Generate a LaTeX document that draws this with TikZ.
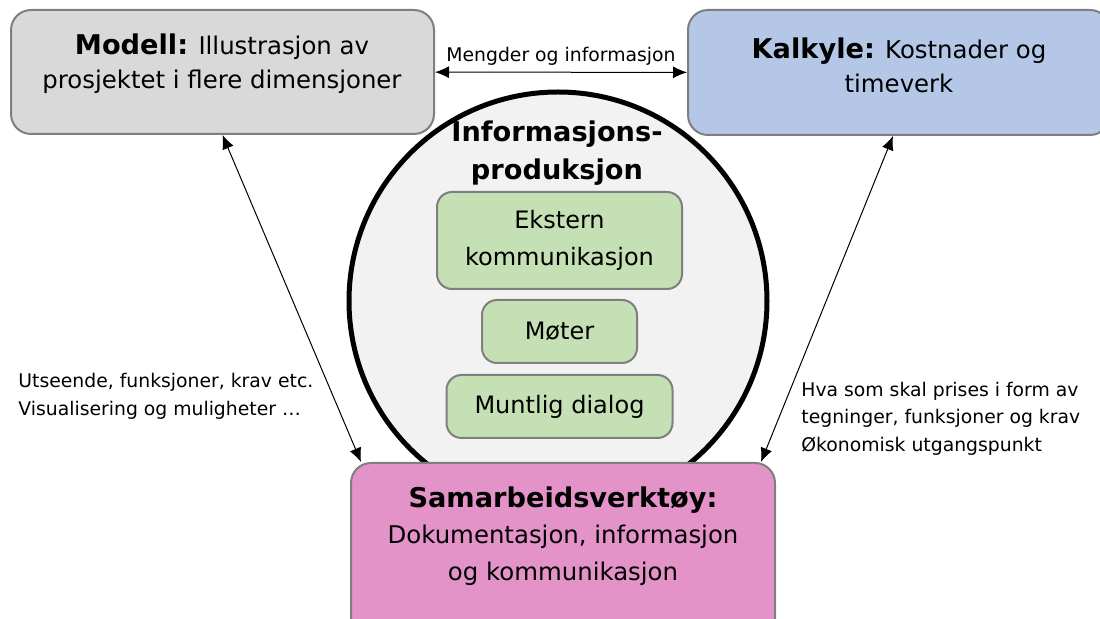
\documentclass[tikz,border=0pt]{standalone}
\usepackage{fontspec}
\setmainfont{DejaVu Sans}
\usetikzlibrary{arrows.meta, positioning}
\definecolor{BorderGray}{HTML}{7F7F7F}
\definecolor{ModelGray}{HTML}{D9D9D9}
\definecolor{CalcBlue}{HTML}{B4C7E7}
\definecolor{SubGreen}{HTML}{C5E0B4}
\definecolor{CollabPink}{HTML}{E393C8}
\definecolor{CircleGray}{HTML}{F2F2F2}
\newcommand{\headword}[1]{{\fontsize{13.6}{17}\selectfont\bfseries #1}}
\tikzset{
    % one base line width for all boxes
    base_width/.style={line width=1pt},
    % large rounded boxes (model, estimate, collaboration)
    main_block/.style={
        rectangle,
        draw=BorderGray,
        base_width,
        inner sep=0pt,
        minimum width=211.5pt,
        minimum height=62pt,
        rounded corners=10pt
    },
    main_text/.style={
        align=center,
        inner sep=0pt,
        font=\fontsize{12.2}{17}\selectfont
    },
    % small green boxes inside the circle
    sub_block/.style={
        rectangle,
        draw=BorderGray,
        base_width,
        fill=SubGreen,
        inner sep=0pt,
        rounded corners=7.5pt,
        align=center,
        font=\fontsize{12}{18.5}\selectfont
    },
    arrow/.style={
        <->,
        >={Latex[length=7pt, width=6pt]},
        draw=black,
        line width=0.5pt
    },
    note_text/.style={
        align=left,
        inner sep=0pt,
        font=\fontsize{9.4}{13.8}\selectfont
    }
}

\begin{document}
\begin{tikzpicture}[x=0.5pt, y=-0.5pt]

    \useasboundingbox (0,0) rectangle (1100,619);
    \clip (0,0) rectangle (1100,619);

    % --- CENTRE CIRCLE ---
    \node[circle, draw=black, line width=2.5pt, fill=CircleGray,
          minimum size=209pt, inner sep=0pt] (info) at (558,301) {};
    \node[align=center, inner sep=0pt, font=\fontsize{13.6}{19}\selectfont\bfseries]
        (info_title) at (557,153) {Informasjons-\\produksjon};

    \node[sub_block, minimum width=122.5pt, minimum height=48.5pt]
        (ekstern) at (559.5,240.5) {Ekstern\\kommunikasjon};
    \node[sub_block, minimum width=77.5pt, minimum height=31.5pt,
          below=4.5pt of ekstern] (moeter) {Møter};
    \node[sub_block, minimum width=113pt, minimum height=31.5pt,
          below=5pt of moeter] (muntlig) {Muntlig dialog};

    % --- TOP ROW ---
    \node[main_block, fill=ModelGray] (modell) at (222.5,72) {};
    \node[main_text] (modell_txt) at (222,64)
        {\headword{Modell:} Illustrasjon av\\prosjektet i flere dimensjoner};

    \node[main_block, fill=CalcBlue, minimum width=211pt, minimum height=62.5pt]
        (kalkyle) at (899,72.5) {};
    \node[main_text] (kalkyle_txt) at (899,65)
        {\headword{Kalkyle:} Kostnader og\\timeverk};

    % --- BOTTOM ---
    \node[main_block, fill=CollabPink, minimum width=212pt, minimum height=93.5pt]
        (samarb) at (563,556.5) {};
    \node[main_text, font=\fontsize{12.2}{18.3}\selectfont] (samarb_txt) at (563,536)
        {\headword{Samarbeidsverktøy:}\\Dokumentasjon, informasjon\\og kommunikasjon};

    \coordinate (samarb_l) at ([xshift=5.5pt]samarb.north west);
    \coordinate (samarb_r) at ([xshift=-7.5pt]samarb.north east);

    % --- CONNECTIONS ---
    \draw[arrow] (modell) -- node[above=3pt, inner sep=0pt,
        font=\fontsize{9.4}{11}\selectfont] (mengder) {Mengder og informasjon} (kalkyle);
    \draw[arrow] (modell.south) -- (samarb_l);
    \draw[arrow] ([xshift=-3pt]kalkyle.south) -- (samarb_r);

    % --- NOTES ---
    \node[note_text, anchor=west] (note_modell) at (18,396.5)
        {Utseende, funksjoner, krav etc.\\Visualisering og muligheter …};
    \node[note_text, anchor=west] (note_kalkyle) at (801,418.5)
        {Hva som skal prises i form av\\tegninger, funksjoner og krav\\Økonomisk utgangspunkt};

\end{tikzpicture}
\end{document}
